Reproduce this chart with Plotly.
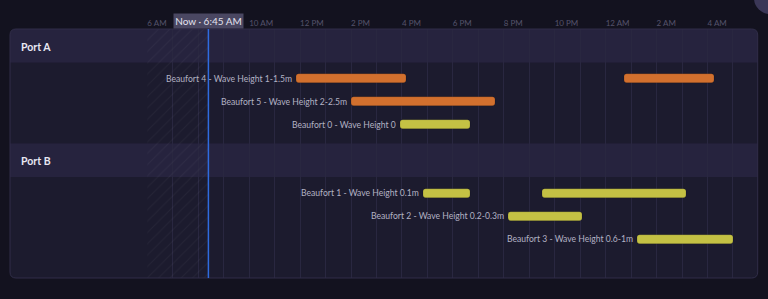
import plotly.graph_objects as go
from datetime import datetime, timedelta

# ---------------- data ----------------
PORTS = ["Port A", "Port B"]
ROW_PORT = ["Port A", "Port A", "Port A", "Port B", "Port B", "Port B"]
ROW_LABELS = [
    "Beaufort 4 - Wave Height 1-1.5m",
    "Beaufort 5 - Wave Height 2-2.5m",
    "Beaufort 0 - Wave Height 0",
    "Beaufort 1 - Wave Height 0.1m",
    "Beaufort 2 - Wave Height 0.2-0.3m",
    "Beaufort 3 - Wave Height 0.6-1m",
]
ROW_BEAUFORT = [4, 5, 0, 1, 2, 3]

SEG_ROW = [0, 0, 1, 2, 3, 3, 4, 5]
SEG_START = ["2024-05-14 11:50", "2024-05-15 00:45", "2024-05-14 14:00", "2024-05-14 15:55",
             "2024-05-14 16:50", "2024-05-14 21:30", "2024-05-14 20:10", "2024-05-15 01:15"]
SEG_END = ["2024-05-14 16:10", "2024-05-15 04:15", "2024-05-14 19:40", "2024-05-14 18:40",
           "2024-05-14 18:40", "2024-05-15 03:10", "2024-05-14 23:05", "2024-05-15 05:00"]

RANGE_START = "2024-05-14 06:00"
RANGE_END = "2024-05-15 05:59"
NOW_TIME = "2024-05-14 08:24"
NOW_LABEL = "Now · 6:45 AM"
# 2-hourly tick labels shown on the axis (8 AM sits under the "Now" tag)
TICK_TIMES = ["2024-05-14 06:00", "2024-05-14 10:00", "2024-05-14 12:00", "2024-05-14 14:00",
              "2024-05-14 16:00", "2024-05-14 18:00", "2024-05-14 20:00", "2024-05-14 22:00",
              "2024-05-15 00:00", "2024-05-15 02:00", "2024-05-15 04:00"]
TICK_TEXT = ["6 AM", "10 AM", "12 PM", "2 PM", "4 PM", "6 PM", "8 PM", "10 PM", "12 AM", "2 AM", "4 AM"]

# ---------------- style ----------------
W, H = 768, 299
PAGE_BG = "#13121f"
ROW_BG = "#1c1b2e"
HEAD_BG = "#26233e"
BORDER = "#302d48"
GRID = "#292740"
TICK_C = "#55536b"
LABEL_C = "#b3b2c4"
HEAD_C = "#e8e7f2"
ORANGE = "#d2702e"
YELLOW = "#c4c144"
NOW_C = "#2f6be0"
FONT = "Lato"

PANEL_L, PANEL_R, PANEL_T, PANEL_B = 10, 757.7, 29, 278
X_L = 147.3
HEADER_H = 33.5
ROW_PITCH = 23
ROW_PAD_TOP = 4.5
SECTION_PAD_BOTTOM = 7.5
BAR_H = 9

# y layout (units = pixels below panel top)
row_center = {}
header_span = {}
cur = 0.0
for p in PORTS:
    header_span[p] = (cur, cur + HEADER_H)
    cur += HEADER_H + ROW_PAD_TOP
    for i, rp in enumerate(ROW_PORT):
        if rp == p:
            row_center[i] = cur + ROW_PITCH / 2
            cur += ROW_PITCH
    cur += SECTION_PAD_BOTTOM
PANEL_SPAN = PANEL_B - PANEL_T

fmt = "%Y-%m-%d %H:%M"
def ms(a, b):
    return (datetime.strptime(b, fmt) - datetime.strptime(a, fmt)).total_seconds() * 1000

fig = go.Figure()

# hatched "past" region
fig.add_trace(go.Bar(
    orientation="h", y=[PANEL_SPAN / 2], width=[PANEL_SPAN],
    base=[RANGE_START], x=[ms(RANGE_START, NOW_TIME)],
    marker=dict(color="rgba(0,0,0,0)", line=dict(width=0),
                pattern=dict(shape="/", fgcolor="rgba(255,255,255,0.08)",
                             bgcolor="rgba(0,0,0,0)", size=8, solidity=0.12)),
    hoverinfo="skip", showlegend=False))

for color, test in [(ORANGE, lambda b: b >= 4), (YELLOW, lambda b: b < 4)]:
    idx = [k for k, r in enumerate(SEG_ROW) if test(ROW_BEAUFORT[r])]
    fig.add_trace(go.Bar(
        orientation="h",
        y=[row_center[SEG_ROW[k]] for k in idx],
        base=[SEG_START[k] for k in idx],
        x=[ms(SEG_START[k], SEG_END[k]) for k in idx],
        width=BAR_H,
        marker=dict(color=color, cornerradius=3, line=dict(width=0.6, color="rgba(0,0,0,0.25)")),
        showlegend=False, hoverinfo="skip"))

def px(x):
    return x / W
def py(y):
    return 1 - y / H

def rounded_path(l, r, t, b, rad, top=True, bottom=True):
    rx, ry = rad / W, rad / H
    L, R, T, B = px(l), px(r), py(t), py(b)
    s = f"M {L+rx} {T} L {R-rx} {T} Q {R} {T} {R} {T-ry} " if top else f"M {L} {T} L {R} {T} "
    s += f"L {R} {B+ry} Q {R} {B} {R-rx} {B} L {L+rx} {B} Q {L} {B} {L} {B+ry} " if bottom else f"L {R} {B} L {L} {B} "
    s += f"L {L} {T-ry} Q {L} {T} {L+rx} {T} Z" if top else "Z"
    return s

shapes = []
shapes.append(dict(type="circle", xref="paper", yref="paper", layer="below",
                   x0=px(754), x1=px(786), y0=py(14), y1=py(-18),
                   fillcolor="#3b3757", line=dict(width=0)))
shapes.append(dict(type="path", xref="paper", yref="paper", layer="below",
                   path=rounded_path(PANEL_L, PANEL_R, PANEL_T, PANEL_B, 6),
                   fillcolor=ROW_BG, line=dict(width=0)))
for j, p in enumerate(PORTS):
    t0, t1 = header_span[p]
    if j == 0:
        shapes.append(dict(type="path", xref="paper", yref="paper", layer="below",
                           path=rounded_path(PANEL_L, PANEL_R, PANEL_T + t0, PANEL_T + t1, 6, top=True, bottom=False),
                           fillcolor=HEAD_BG, line=dict(width=0)))
    else:
        shapes.append(dict(type="rect", xref="paper", yref="y", layer="below",
                           x0=px(PANEL_L), x1=px(PANEL_R), y0=t0, y1=t1,
                           fillcolor=HEAD_BG, line=dict(width=0)))
shapes.append(dict(type="path", xref="paper", yref="paper", layer="above",
                   path=rounded_path(PANEL_L, PANEL_R, PANEL_T, PANEL_B, 6),
                   fillcolor="rgba(0,0,0,0)", line=dict(width=1, color=BORDER)))
shapes.append(dict(type="line", xref="x", yref="y", x0=NOW_TIME, x1=NOW_TIME, y0=0, y1=PANEL_SPAN,
                   line=dict(color=NOW_C, width=1.5), layer="above"))

annotations = []
for p in PORTS:
    t0, t1 = header_span[p]
    annotations.append(dict(xref="paper", yref="y", x=px(19), y=(t0 + t1) / 2 + 1, xanchor="left",
                            yanchor="middle", text=p, showarrow=False,
                            font=dict(family=FONT, size=10.5, color=HEAD_C, weight=700)))
for i, lab in enumerate(ROW_LABELS):
    first = min((SEG_START[k] for k, r in enumerate(SEG_ROW) if r == i))
    annotations.append(dict(xref="x", yref="y", x=first, y=row_center[i], xanchor="right",
                            yanchor="middle", xshift=-2, text=lab, showarrow=False,
                            font=dict(family=FONT, size=8.6, color=LABEL_C)))
annotations.append(dict(xref="x", yref="y", x=NOW_TIME, y=0, xanchor="center", yanchor="bottom",
                        text=NOW_LABEL, showarrow=False, bgcolor="#4a4762", borderpad=1,
                        width=67, height=12,
                        font=dict(family=FONT, size=10, color="#e4e3ef")))

fig.update_layout(
    width=W, height=H, margin=dict(l=0, r=0, t=0, b=0),
    paper_bgcolor=PAGE_BG, plot_bgcolor="rgba(0,0,0,0)",
    barmode="overlay", bargap=0,
    shapes=shapes, annotations=annotations,
    xaxis=dict(type="date", domain=[X_L / W, 758 / W], range=[RANGE_START, RANGE_END],
               side="top", tickmode="array", tickvals=TICK_TIMES, ticktext=TICK_TEXT,
               ticklabelposition="outside right", ticks="", showline=False, zeroline=False,
               showgrid=True, gridcolor=GRID, gridwidth=1,
               minor=dict(dtick=3600 * 1000, tick0=RANGE_START, showgrid=True, gridcolor=GRID, gridwidth=1),
               tickfont=dict(family=FONT, size=8, color=TICK_C), fixedrange=True),
    yaxis=dict(domain=[1 - PANEL_B / H, 1 - PANEL_T / H], range=[PANEL_SPAN, 0],
               showgrid=False, showticklabels=False, zeroline=False, showline=False, fixedrange=True),
)

fig.write_html("out.html")
